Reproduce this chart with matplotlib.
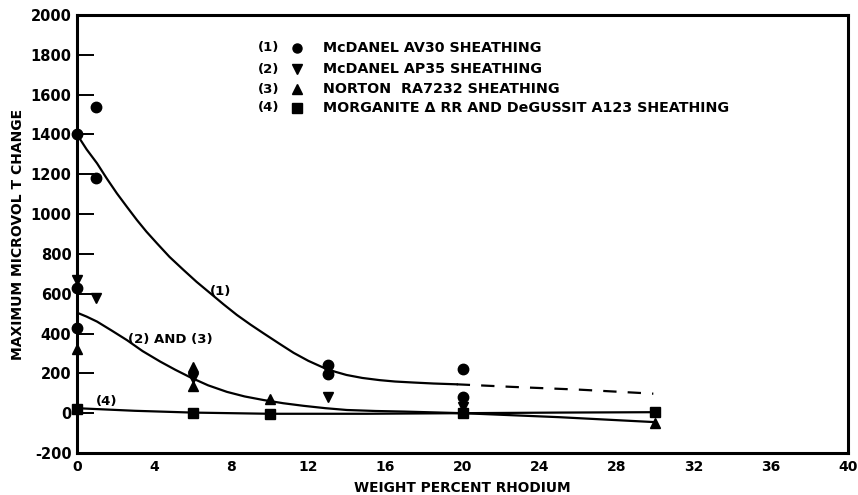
import matplotlib
matplotlib.use("Agg")
import matplotlib.pyplot as plt

# ---- data ----
# series (1) McDANEL AV30 (circles)
s1_x = [0, 1, 1, 0, 0, 13, 13, 20, 20]
s1_y = [1400, 1540, 1180, 630, 430, 240, 195, 220, 80]
# series (2) McDANEL AP35 (triangle down)
s2_x = [0, 1, 6, 13, 20]
s2_y = [670, 580, 175, 80, 30]
# series (3) NORTON RA7232 (triangle up)
s3_x = [0, 6, 6, 10, 30]
s3_y = [320, 230, 135, 70, -50]
# series (4) MORGANITE / DeGUSSIT (squares)
s4_x = [0, 6, 10, 20, 30]
s4_y = [20, 0, -5, 0, 5]

# fitted curves
c1_x = [0, 0.5, 1.04, 1.55, 2.07, 2.6, 3.11, 3.6, 4.15, 4.8, 5.53, 6.2, 6.92, 7.6,
        8.3, 9.0, 9.68, 10.5, 11.24, 12.0, 12.8, 13.4, 13.98, 14.8, 15.7, 16.5, 17.45, 18.5, 19.7]
c1_y = [1400, 1325, 1255, 1178, 1104, 1035, 970, 912, 853, 785, 719, 660, 602, 547,
        493, 445, 401, 349, 303, 263, 228, 208, 192, 177, 166, 159, 154, 149, 145]
c1d_x = [19.7, 22.6, 26.1, 29.9]
c1d_y = [145, 132, 118, 98]
c23_x = [0, 0.5, 1.04, 1.8, 2.59, 3.4, 4.32, 5.1, 5.88, 6.8, 7.78, 8.7, 9.68, 10.7,
         11.75, 12.9, 14, 15.5, 17, 18.5, 20, 25, 30]
c23_y = [505, 485, 460, 415, 367, 312, 259, 218, 180, 140, 107, 84, 66, 50,
         37, 25, 16, 11, 8, 4, 0, -20, -45]
c4_x = [0, 3, 6, 10, 15, 20, 25, 30]
c4_y = [25, 12, 3, -3, -3, 0, 3, 5]

legend_nums = ["(1)", "(2)", "(3)", "(4)"]
legend_labels = ["McDANEL AV30 SHEATHING",
                 "McDANEL AP35 SHEATHING",
                 "NORTON  RA7232 SHEATHING",
                 "MORGANITE \u0394 RR AND DeGUSSIT A123 SHEATHING"]
legend_markers = ["o", "v", "^", "s"]

curve_labels = ["(1)", "(2) AND (3)", "(4)"]
curve_label_x = [7.43, 4.84, 1.56]
curve_label_y = [610, 371, 58]

xticks = list(range(0, 41, 4))
yticks = list(range(-200, 2001, 200))

plt.rcParams['font.family'] = ['DejaVu Sans']
fig = plt.figure(figsize=(8.58, 4.95), dpi=100)
ax = fig.add_axes([77/858, 42/495, 771/858, 438/495])

lw = 1.6
ax.plot(c1_x, c1_y, color='black', lw=lw)
ax.plot(c1d_x, c1d_y, color='black', lw=lw, dashes=(6, 5))
ax.plot(c23_x, c23_y, color='black', lw=lw)
ax.plot(c4_x, c4_y, color='black', lw=lw)

ms = 7.5
ax.plot(s1_x, s1_y, 'o', color='black', ms=ms, clip_on=False)
ax.plot(s2_x, s2_y, 'v', color='black', ms=ms, clip_on=False)
ax.plot(s3_x, s3_y, '^', color='black', ms=ms, clip_on=False)
ax.plot(s4_x, s4_y, 's', color='black', ms=ms - 1, clip_on=False)

for t, x, y in zip(curve_labels, curve_label_x, curve_label_y):
    ax.text(x, y, t, ha='center', va='center', fontsize=9.5, fontweight='bold')

ys = [0.9247, 0.8767, 0.831, 0.7877]
for n, m, lab, y in zip(legend_nums, legend_markers, legend_labels, ys):
    ax.text(0.2348, y, n, transform=ax.transAxes, ha='left', va='center',
            fontsize=9.5, fontweight='bold')
    ax.plot([0.2853], [y], m, color='black', ms=6.5, transform=ax.transAxes)
    ax.text(0.319, y, lab, transform=ax.transAxes, ha='left', va='center',
            fontsize=10.3, fontweight='bold')

ax.set_xlim(0, 40)
ax.set_ylim(-200, 2000)
ax.set_xticks(xticks)
ax.set_yticks(yticks)
ax.set_xticklabels([str(v) for v in xticks], fontsize=10, fontweight='bold')
ax.set_yticklabels([str(v) for v in yticks], fontsize=10.5, fontweight='bold')
ax.tick_params(axis='y', direction='in', length=12, width=1.4, pad=4)
ax.tick_params(axis='x', direction='in', length=0, pad=5)
for sp in ax.spines.values():
    sp.set_linewidth(2.2)

ax.set_xlabel("WEIGHT PERCENT RHODIUM", fontsize=9.9, fontweight='bold', labelpad=5)
ax.set_ylabel("MAXIMUM MICROVOL T CHANGE", fontsize=10, fontweight='bold', labelpad=4)

fig.savefig("out.png", dpi=100)
